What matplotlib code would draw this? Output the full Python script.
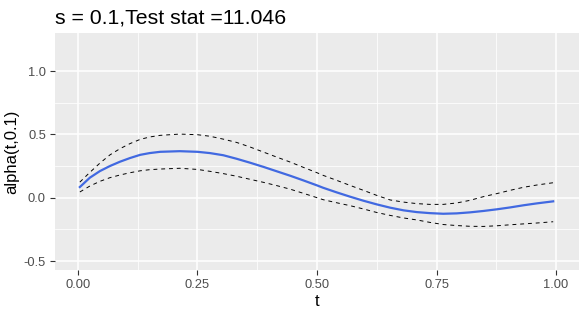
import matplotlib
matplotlib.use("Agg")
import matplotlib.pyplot as plt
import numpy as np

t = [0.004, 0.025, 0.046, 0.067, 0.088, 0.109, 0.13, 0.15, 0.172, 0.213,
     0.25, 0.276, 0.304, 0.332, 0.36, 0.388, 0.416, 0.444, 0.471, 0.5,
     0.513, 0.541, 0.569, 0.597, 0.625, 0.653, 0.681, 0.709, 0.736, 0.764,
     0.792, 0.82, 0.848, 0.876, 0.904, 0.932, 0.96, 0.994]
alpha = [0.084, 0.158, 0.21, 0.25, 0.284, 0.313, 0.338, 0.352, 0.362, 0.367,
         0.362, 0.352, 0.335, 0.307, 0.276, 0.243, 0.208, 0.173, 0.137, 0.097,
         0.078, 0.042, 0.008, -0.024, -0.053, -0.079, -0.1, -0.114, -0.122, -0.127,
         -0.124, -0.116, -0.105, -0.092, -0.077, -0.06, -0.045, -0.029]
upper = [0.123, 0.20, 0.273, 0.338, 0.387, 0.427, 0.46, 0.479, 0.492, 0.502,
         0.497, 0.485, 0.462, 0.436, 0.40, 0.36, 0.32, 0.281, 0.24, 0.197,
         0.176, 0.137, 0.097, 0.058, 0.018, -0.018, -0.035, -0.047, -0.053, -0.053,
         -0.042, -0.021, 0.008, 0.032, 0.058, 0.082, 0.1, 0.118]
lower = [0.045, 0.092, 0.129, 0.158, 0.179, 0.197, 0.212, 0.221, 0.226, 0.232,
         0.223, 0.208, 0.19, 0.169, 0.145, 0.121, 0.095, 0.067, 0.035, 0.0,
         -0.016, -0.04, -0.063, -0.089, -0.117, -0.14, -0.16, -0.176, -0.195, -0.212,
         -0.22, -0.226, -0.227, -0.222, -0.214, -0.207, -0.2, -0.19]
xticks = [0.0, 0.25, 0.5, 0.75, 1.0]
xticklabels = ["0.00", "0.25", "0.50", "0.75", "1.00"]
yticks = [-0.5, 0.0, 0.5, 1.0]
yticklabels = ["-0.5", "0.0", "0.5", "1.0"]
title = "s = 0.1,Test stat =11.046"

plt.rcParams['font.family'] = ['Liberation Sans', 'DejaVu Sans']

fig = plt.figure(figsize=(5.86, 3.19), dpi=100)
ax = fig.add_axes([55/586, 1-270/319, (579-55)/586, (270-33)/319])
ax.set_facecolor('#EBEBEB')
for s in ax.spines.values():
    s.set_visible(False)

ax.set_xlim(-0.048, 1.048)
ax.set_ylim(-0.571, 1.30)
ax.set_xticks(xticks)
ax.set_xticklabels(xticklabels)
ax.set_yticks(yticks)
ax.set_yticklabels(yticklabels)
ax.set_xticks([0.125, 0.375, 0.625, 0.875], minor=True)
ax.set_yticks([-0.25, 0.25, 0.75], minor=True)
ax.grid(True, which='major', color='white', linewidth=1.1)
ax.grid(True, which='minor', color='white', linewidth=0.55)
ax.set_axisbelow(True)
ax.tick_params(which='major', length=3.5, width=0.8, color='#333333',
               labelcolor='#4D4D4D', labelsize=9.3, pad=3)
ax.tick_params(which='minor', length=0)

ax.plot(t, upper, color='black', linewidth=0.7, linestyle=(0, (4, 4)))
ax.plot(t, lower, color='black', linewidth=0.7, linestyle=(0, (4, 4)))
ax.plot(t, alpha, color='#4169E1', linewidth=1.6)

ax.set_xlabel('t', fontsize=12, color='black', labelpad=2)
ax.set_ylabel('alpha(t,0.1)', fontsize=12, color='black', labelpad=3)
fig.text(55/586, 1-24/319, title, fontsize=15.3, color='black', ha='left', va='baseline')

fig.savefig('out.png', dpi=100)
